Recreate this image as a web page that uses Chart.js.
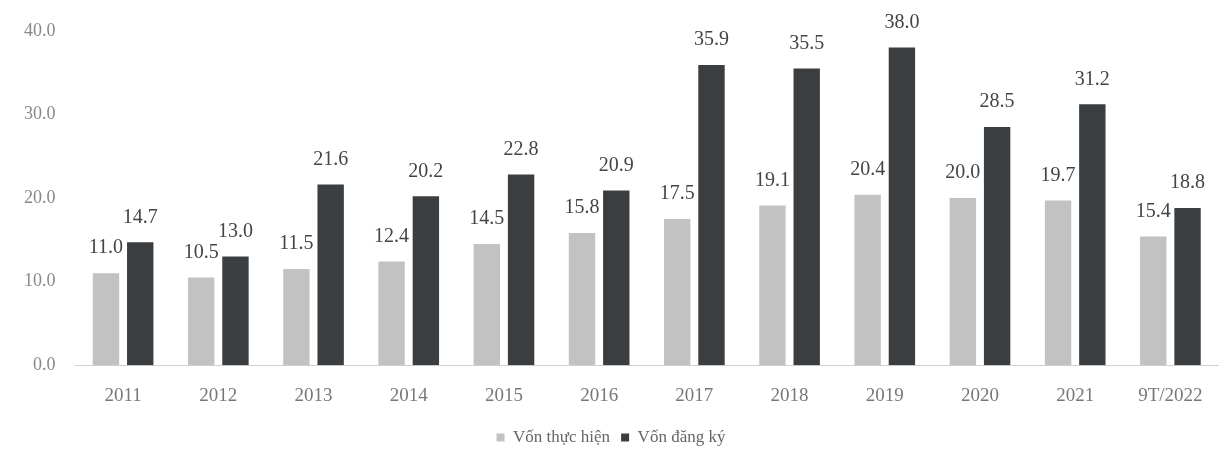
<!DOCTYPE html>
<html>
<head>
<meta charset="utf-8">
<script src="https://cdn.jsdelivr.net/npm/chart.js@4.4.0/dist/chart.umd.min.js"></script>
<style>
html,body{margin:0;padding:0;background:#fff;}
#wrap{width:1226px;height:456px;position:relative;}
</style>
</head>
<body>
<div id="wrap"><canvas id="c" width="1226" height="456"></canvas></div>
<script>
const categories = ["2011","2012","2013","2014","2015","2016","2017","2018","2019","2020","2021","9T/2022"];
const vonThucHien = [11.0,10.5,11.5,12.4,14.5,15.8,17.5,19.1,20.4,20.0,19.7,15.4];
const vonDangKy = [14.7,13.0,21.6,20.2,22.8,20.9,35.9,35.5,38.0,28.5,31.2,18.8];
const seriesNames = ["Vốn thực hiện","Vốn đăng ký"];
const yTicks = [0,10,20,30,40];

const FONT = '"Liberation Serif", "DejaVu Serif", serif';

const labelPlugin = {
  id: 'valueLabels',
  afterDatasetsDraw(chart) {
    const ctx = chart.ctx;
    ctx.save();
    ctx.font = '20px ' + FONT;
    ctx.fillStyle = '#444';
    ctx.textAlign = 'center';
    ctx.textBaseline = 'bottom';
    chart.data.datasets.forEach((ds, di) => {
      const meta = chart.getDatasetMeta(di);
      meta.data.forEach((bar, i) => {
        ctx.fillText(ds.data[i].toFixed(1), bar.x, bar.y - 15);
      });
    });
    ctx.restore();
  }
};

new Chart(document.getElementById('c'), {
  type: 'bar',
  data: {
    labels: categories,
    datasets: [
      { label: seriesNames[0], data: vonThucHien, backgroundColor: '#c2c2c2', categoryPercentage: 0.72, barPercentage: 0.77 },
      { label: seriesNames[1], data: vonDangKy, backgroundColor: '#3b3e40', categoryPercentage: 0.72, barPercentage: 0.77 }
    ]
  },
  options: {
    responsive: false,
    animation: false,
    layout: { padding: { top: 8, right: 8, left: 4, bottom: 0 } },
    plugins: {
      legend: {
        position: 'bottom',
        labels: {
          boxWidth: 8, boxHeight: 8, padding: 11,
          color: '#666',
          font: { family: FONT, size: 17 }
        }
      },
      tooltip: { enabled: false }
    },
    scales: {
      x: {
        grid: { display: false, drawTicks: false },
        border: { display: true, color: '#d0d0d0', width: 1 },
        ticks: { color: '#777', font: { family: FONT, size: 19 }, padding: 19 },
        afterFit: (scale) => { scale.height -= 8; }
      },
      y: {
        min: 0, max: 40,
        afterBuildTicks: (axis) => { axis.ticks = yTicks.map(v => ({ value: v })); },
        grid: { display: false, drawTicks: false },
        border: { display: false },
        ticks: { color: '#888', font: { family: FONT, size: 18 }, padding: 20,
          callback: (v) => Number(v).toFixed(1) }
      }
    }
  },
  plugins: [labelPlugin]
});
</script>
</body>
</html>
